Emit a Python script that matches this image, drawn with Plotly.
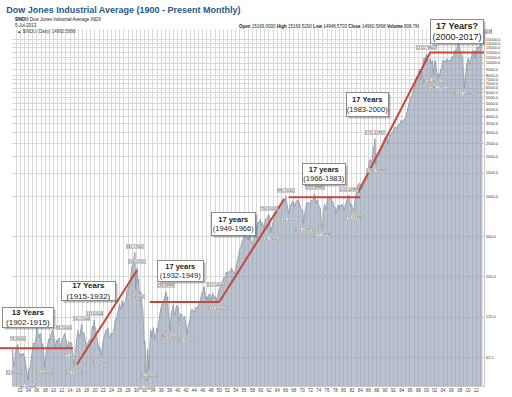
import math
import plotly.graph_objects as go

# ---------------- data ----------------
dates = [
 "1900-01","1900-03","1900-06","1900-09","1900-12",
 "1901-03","1901-06","1901-07","1901-10","1901-12",
 "1902-03","1902-06","1902-09","1902-12",
 "1903-03","1903-06","1903-09","1903-11","1903-12",
 "1904-03","1904-06","1904-09","1904-12",
 "1905-03","1905-06","1905-09","1905-12",
 "1906-01","1906-04","1906-07","1906-10","1906-12",
 "1907-03","1907-06","1907-09","1907-11","1907-12",
 "1908-03","1908-06","1908-09","1908-12",
 "1909-03","1909-06","1909-09","1909-11","1909-12",
 "1910-03","1910-07","1910-10","1910-12",
 "1911-03","1911-06","1911-09","1911-12",
 "1912-03","1912-06","1912-09","1912-12",
 "1913-03","1913-06","1913-09","1913-12",
 "1914-03","1914-06","1914-07","1914-12",
 "1915-03","1915-06","1915-09","1915-12",
 "1916-03","1916-06","1916-09","1916-11","1916-12",
 "1917-03","1917-06","1917-09","1917-12",
 "1918-03","1918-06","1918-10","1918-12",
 "1919-03","1919-06","1919-08","1919-11","1919-12",
 "1920-03","1920-06","1920-09","1920-12",
 "1921-03","1921-06","1921-08","1921-12",
 "1922-03","1922-06","1922-09","1922-12",
 "1923-03","1923-06","1923-09","1923-12",
 "1924-03","1924-06","1924-09","1924-12",
 "1925-03","1925-06","1925-09","1925-12",
 "1926-03","1926-06","1926-08","1926-10","1926-12",
 "1927-03","1927-06","1927-09","1927-12",
 "1928-03","1928-06","1928-09","1928-12",
 "1929-03","1929-06","1929-09","1929-10","1929-11","1929-12",
 "1930-02","1930-04","1930-06","1930-08","1930-10","1930-12",
 "1931-02","1931-04","1931-06","1931-08","1931-10","1931-12",
 "1932-02","1932-03","1932-05","1932-07","1932-09","1932-12",
 "1933-02","1933-04","1933-07","1933-10","1933-12",
 "1934-02","1934-05","1934-07","1934-10","1934-12",
 "1935-03","1935-06","1935-09","1935-12",
 "1936-03","1936-06","1936-09","1936-12",
 "1937-03","1937-06","1937-08","1937-10","1937-12",
 "1938-03","1938-06","1938-09","1938-11","1938-12",
 "1939-03","1939-06","1939-09","1939-12",
 "1940-03","1940-05","1940-09","1940-12",
 "1941-03","1941-06","1941-09","1941-12",
 "1942-04","1942-06","1942-09","1942-12",
 "1943-03","1943-06","1943-09","1943-12",
 "1944-03","1944-06","1944-09","1944-12",
 "1945-03","1945-06","1945-09","1945-12",
 "1946-02","1946-05","1946-08","1946-10","1946-12",
 "1947-03","1947-05","1947-07","1947-10","1947-12",
 "1948-02","1948-06","1948-09","1948-11","1948-12",
 "1949-03","1949-06","1949-09","1949-12",
 "1950-03","1950-06","1950-09","1950-12",
 "1951-03","1951-06","1951-09","1951-12",
 "1952-03","1952-06","1952-09","1952-12",
 "1953-03","1953-06","1953-09","1953-12",
 "1954-03","1954-06","1954-09","1954-12",
 "1955-03","1955-06","1955-09","1955-12",
 "1956-03","1956-06","1956-09","1956-12",
 "1957-03","1957-06","1957-10","1957-12",
 "1958-03","1958-06","1958-09","1958-12",
 "1959-03","1959-06","1959-09","1959-12",
 "1960-03","1960-06","1960-10","1960-12",
 "1961-03","1961-06","1961-09","1961-12",
 "1962-03","1962-06","1962-09","1962-12",
 "1963-03","1963-06","1963-09","1963-12",
 "1964-03","1964-06","1964-09","1964-12",
 "1965-03","1965-06","1965-09","1965-12",
 "1966-02","1966-05","1966-08","1966-10","1966-12",
 "1967-03","1967-06","1967-09","1967-12",
 "1968-03","1968-06","1968-09","1968-12",
 "1969-03","1969-06","1969-09","1969-12",
 "1970-03","1970-05","1970-06","1970-09","1970-12",
 "1971-03","1971-06","1971-09","1971-12",
 "1972-03","1972-06","1972-09","1972-12",
 "1973-01","1973-03","1973-06","1973-09","1973-12",
 "1974-03","1974-06","1974-09","1974-12",
 "1975-03","1975-06","1975-09","1975-12",
 "1976-03","1976-06","1976-09","1976-12",
 "1977-03","1977-06","1977-09","1977-12",
 "1978-02","1978-06","1978-09","1978-12",
 "1979-03","1979-06","1979-09","1979-12",
 "1980-03","1980-06","1980-09","1980-12",
 "1981-04","1981-06","1981-09","1981-12",
 "1982-03","1982-08","1982-09","1982-12",
 "1983-03","1983-06","1983-09","1983-12",
 "1984-03","1984-06","1984-09","1984-12",
 "1985-03","1985-06","1985-09","1985-12",
 "1986-03","1986-06","1986-09","1986-12",
 "1987-03","1987-06","1987-08","1987-10","1987-12",
 "1988-03","1988-06","1988-09","1988-12",
 "1989-03","1989-06","1989-09","1989-12",
 "1990-03","1990-06","1990-09","1990-12",
 "1991-03","1991-06","1991-09","1991-12",
 "1992-03","1992-06","1992-09","1992-12",
 "1993-03","1993-06","1993-09","1993-12",
 "1994-03","1994-06","1994-09","1994-12",
 "1995-03","1995-06","1995-09","1995-12",
 "1996-03","1996-06","1996-09","1996-12",
 "1997-03","1997-06","1997-09","1997-12",
 "1998-03","1998-06","1998-08","1998-12",
 "1999-03","1999-06","1999-09","1999-12",
 "2000-01","2000-03","2000-06","2000-09","2000-12",
 "2001-03","2001-06","2001-09","2001-12",
 "2002-03","2002-06","2002-10","2002-12",
 "2003-03","2003-06","2003-09","2003-12",
 "2004-03","2004-06","2004-09","2004-12",
 "2005-03","2005-06","2005-09","2005-12",
 "2006-03","2006-06","2006-09","2006-12",
 "2007-03","2007-06","2007-10","2007-12",
 "2008-03","2008-06","2008-09","2008-11","2008-12",
 "2009-03","2009-06","2009-09","2009-12",
 "2010-03","2010-06","2010-09","2010-12",
 "2011-03","2011-06","2011-09","2011-12",
 "2012-03","2012-06","2012-09","2012-12",
 "2013-03","2013-05","2013-07",
]
values = [
 68,71,53,58,70,
 75,78,69,67,64,
 66,64,67,64,
 60,53,45,42.2,49,
 51,53,62,70,
 80,78,82,96,
 103,95,87,94,94,
 76,79,67,53,58,
 62,74,80,86,
 84,93,99,100,99,
 90,74,84,81,
 84,87,73,82,
 86,89,94,88,
 80,73,82,79,
 80,80,71.4,54,
 61,76,88,99,
 94,88,104,110,95,
 96,94,83,74,
 78,82,85,82,
 89,107,100,119,107,
 104,91,82,72,
 75,68,64,81,
 89,93,100,99,
 104,88,87,95,
 93,96,103,120,
 118,131,145,156,
 141,153,166,150,157,
 161,165,196,200,
 214,210,240,300,
 308,333,381,273,199,248,
 272,294,226,240,183,165,
 194,151,150,140,105,78,
 82,73,44,41.2,72,60,
 51,77,100,88,100,
 104,93,85,93,104,
 97,119,131,144,
 156,157,168,180,
 194,170,177,125,121,
 99,134,141,154,155,
 131,131,153,150,
 147,116,132,131,
 123,123,127,111,
 93,103,109,119,
 136,143,141,136,
 138,148,146,152,
 154,165,181,193,
 190,212,189,169,177,
 177,163,186,182,181,
 166,189,178,171,177,
 178,162,182,200,
 206,209,226,235,
 248,242,271,269,
 270,274,271,292,
 280,268,264,281,
 303,334,361,404,
 409,451,466,488,
 511,492,475,500,
 475,503,441,436,
 446,478,532,584,
 602,644,632,679,
 602,641,580,616,
 677,684,701,735,
 706,536,579,652,
 682,707,743,763,
 813,832,875,874,
 889,868,931,969,
 995,884,788,744,786,
 865,860,927,905,
 840,898,936,944,
 936,873,813,800,
 785,631,684,761,839,
 904,891,887,890,
 940,929,953,1020,
 1052,951,891,947,851,
 847,802,608,578,
 768,879,794,852,
 999,1003,990,1005,
 919,916,847,831,
 742,819,866,805,
 862,842,879,839,
 786,868,932,964,
 1024,977,850,875,
 822,777,896,1047,
 1130,1222,1233,1259,
 1165,1133,1207,1212,
 1267,1336,1329,1547,
 1819,1893,1768,1896,
 2305,2419,2722,1739,1939,
 1988,2142,2113,2169,
 2293,2440,2693,2753,
 2707,2881,2453,2634,
 2914,2907,3017,3169,
 3236,3319,3272,3301,
 3436,3516,3555,3754,
 3636,3625,3843,3834,
 4158,4556,4789,5117,
 5587,5655,5882,6448,
 6584,7673,7945,7908,
 8800,8952,7539,9181,
 9786,10971,10337,11497,
 11723,10922,10448,10651,10788,
 9879,10502,8236,10022,
 10404,9243,7286,8342,
 7992,8985,9275,10454,
 10358,10435,10080,10783,
 10504,10275,10569,10718,
 11109,11150,11679,12463,
 12354,13409,14165,13265,
 12263,11350,10851,8829,8776,
 6547,8447,9712,10428,
 10857,9774,10788,11578,
 12320,12414,10913,12218,
 13212,12880,13437,13104,
 14579,15542,14960,
]

# red "secular" trend lines (start/end dates and levels)
trend_x = ["1900-01","1914-10",None,"1915-09","1930-03",None,"1933-04","1950-01",None,
           "1950-01","1965-09",None,"1966-10","1984-01",None,"1983-07","2000-11",None,
           "2000-09","2014-01"]
trend_y = [73,73,None,55,280,None,162,162,None,
           162,960,None,985,985,None,1070,11900,None,
           12000,12000]

# period call-out boxes
box_titles = ["13 Years","17 Years","17 years","17 years","17 years","17 Years","17 Years?"]
box_periods = ["(1902-1915)","(1915-1932)","(1932-1949)","(1949-1966)","(1966-1983)","(1983-2000)","(2000-2017)"]
box_dates = ["1903-11","1918-06","1940-08","1953-07","1975-05","1985-10","2007-06"]
box_levels = [125,197,277,621,1486,4850,17300]

# extreme-value labels
label_dates = ["1900-06","1901-06","1903-11","1907-11","1912-09","1914-07","1914-12","1916-11",
               "1919-11","1921-08","1929-09","1930-04","1929-11","1932-07","1933-02","1937-03",
               "1938-03","1942-04","1946-05","1949-06","1961-12","1962-06","1966-02","1966-10",
               "1970-05","1973-01","1974-12","1981-04","1982-08","1987-08","1987-10","2000-01",
               "2001-09","2002-10","2009-03","2013-05"]
label_values = [52.96,78.26,42.15,53.00,94.15,71.42,53.17,110.15,
                119.62,63.90,381.17,294.07,198.69,41.22,50.16,194.40,
                98.95,92.92,212.50,161.60,734.91,535.76,995.15,744.32,
                631.16,1051.70,577.60,1024.05,776.92,2722.42,1738.74,11722.98,
                8235.81,7286.27,6547.05,15542.40]
label_texts = ["52.96000","78.26000","42.15000","53.00000","94.15000","71.42000","53.17000","110.15000",
               "119.62000","63.90000","381.17001","294.07001","198.69000","41.22000","50.16000","194.39999",
               "98.95000","92.92000","212.50000","161.60001","734.91003","535.76001","995.15002","744.32001",
               "631.15997","1051.69995","577.59998","1024.04999","776.91998","2722.41992","1738.73999","11722.98047",
               "8235.80957","7286.27051","6547.04980","15542.40039"]
# placement of each label relative to its point: a = above, b = below, r = right
label_side = ["b","a","b","b","a","b","b","a",
              "a","b","a","a","b","b","b","a",
              "b","b","r","b","a","b","a","b",
              "b","a","b","a","b","a","b","a",
              "b","b","b","a"]

y_tickvals = [62.5,125,250,500,1000,1500,2000,2500,3000,3500,4000,4500,5000,5500,6000,
              6500,7000,7500,8000,9000,10000,11000,12000,13000,14000,15000]
y_ticktext = [f"{v:.1f}" for v in y_tickvals]
x_tickvals = [f"{y}-01-01" for y in range(1902, 2013, 2)]
x_ticktext = [f"{y % 100:02d}" for y in range(1902, 2013, 2)]

# ---------------- figure ----------------
FONT = "Liberation Sans, Arial, sans-serif"
Y_LO, Y_HI = math.log10(38), math.log10(18000)
fig = go.Figure()

fig.add_trace(go.Scatter(
    x=dates, y=values, mode="lines",
    line=dict(color="#8b95a5", width=0.8),
    fill="tozeroy", fillcolor="rgba(128,143,166,0.55)",
    hoverinfo="x+y", showlegend=False))

fig.add_trace(go.Scatter(
    x=trend_x, y=trend_y, mode="lines",
    line=dict(color="#c4493a", width=2),
    hoverinfo="skip", showlegend=False))

# stub of the first trend line that runs into the left margin
stub_y = (math.log10(trend_y[0]) - Y_LO) / (Y_HI - Y_LO)
fig.add_shape(type="line", xref="paper", yref="paper", x0=-0.026, x1=0.0,
              y0=stub_y, y1=stub_y, line=dict(color="#c4493a", width=2))

for d, v, t, s in zip(label_dates, label_values, label_texts, label_side):
    kw = dict(yshift=6) if s == "a" else dict(yshift=-6) if s == "b" else dict(xanchor="left", xshift=3, yshift=2)
    fig.add_annotation(x=d, y=math.log10(v), text=t, showarrow=False,
                       font=dict(family=FONT, size=3.5, color="#333"),
                       bgcolor="rgba(255,255,255,0.85)", bordercolor="#999",
                       borderwidth=0.5, borderpad=0, **kw)

box_w = [50, 53, 45, 43, 42, 41, 52]
box_h = [19, 18, 20, 22, 20, 23, 23]
for i, (t, p, d, v) in enumerate(zip(box_titles, box_periods, box_dates, box_levels)):
    big = (i == len(box_titles) - 1)
    fs = 9 if big else (8 if i < 2 else 7.5)
    txt = f"<b>{t}</b><br>{p}"
    fig.add_annotation(x=d, y=math.log10(v), text=" ", showarrow=False,
                       width=box_w[i], height=box_h[i],
                       font=dict(family=FONT, size=fs, color="rgba(0,0,0,0)"),
                       bgcolor="rgba(60,60,60,0.35)", borderpad=0, borderwidth=1,
                       bordercolor="rgba(0,0,0,0)", xshift=2, yshift=-2)
    fig.add_annotation(x=d, y=math.log10(v), text=txt, showarrow=False,
                       width=box_w[i], height=box_h[i],
                       font=dict(family=FONT, size=fs, color="#222"),
                       bgcolor="white", borderpad=0, borderwidth=1, bordercolor="#8a8a8a")

# header texts
hdr = dict(xref="paper", yref="paper", showarrow=False, xanchor="left", yanchor="middle")
fig.add_annotation(x=0.002, y=1.028, text="<b>$INDU</b> Dow Jones Industrial Average INDX",
                   font=dict(family=FONT, size=4.5, color="#222"), **hdr)
fig.add_annotation(x=0.002, y=1.011, text="5-Jul-2013",
                   font=dict(family=FONT, size=4.5, color="#222"), **hdr)
fig.add_annotation(x=0.006, y=0.994, text="▲ $INDU (Daily) 14960.5898",
                   font=dict(family=FONT, size=4.5, color="#444"), **hdr)
fig.add_annotation(x=0.477, y=1.008,
                   text="<b>Open</b> 15169.0000 <b>High</b> 15169.5200 <b>Low</b> 14948.5703 "
                        "<b>Close</b> 14960.5898 <b>Volume</b> 808.7M",
                   font=dict(family=FONT, size=4.5, color="#222"), **hdr)

fig.update_layout(
    width=512, height=397,
    margin=dict(l=12, r=28, t=29, b=11, autoexpand=False),
    paper_bgcolor="white", plot_bgcolor="white",
    title=dict(text="<b>Dow Jones Industrial Average (1900 - Present Monthly)</b>",
               font=dict(family=FONT, size=9, color="#245a8a"),
               xref="container", x=0.012, xanchor="left",
               yref="container", y=0.976, yanchor="middle", automargin=False),
    xaxis=dict(type="date", range=["1900-01-02", "2013-11-15"], automargin=False,
               tickmode="array", tickvals=x_tickvals, ticktext=x_ticktext,
               tickfont=dict(family=FONT, size=4.5, color="#444"),
               showgrid=True, gridcolor="#d9d9d9", gridwidth=1,
               minor=dict(dtick="M12", tick0="1900-01-01", showgrid=True,
                          gridcolor="#d9d9d9", gridwidth=1),
               showline=True, linecolor="#c8c8c8", ticks="", zeroline=False),
    yaxis=dict(type="log", range=[Y_LO, Y_HI], side="right",
               automargin=False,
               tickvals=y_tickvals, ticktext=y_ticktext,
               tickfont=dict(family=FONT, size=4, color="#333"),
               showgrid=True, gridcolor="#d9d9d9", gridwidth=1,
               showline=True, linecolor="#c8c8c8", ticks="", zeroline=False),
)

# the page body has a default 8px margin; remove it so the figure fills the window
fig.write_html("out.html", config={"displayModeBar": False},
               post_script="document.body.style.margin='0px';")
